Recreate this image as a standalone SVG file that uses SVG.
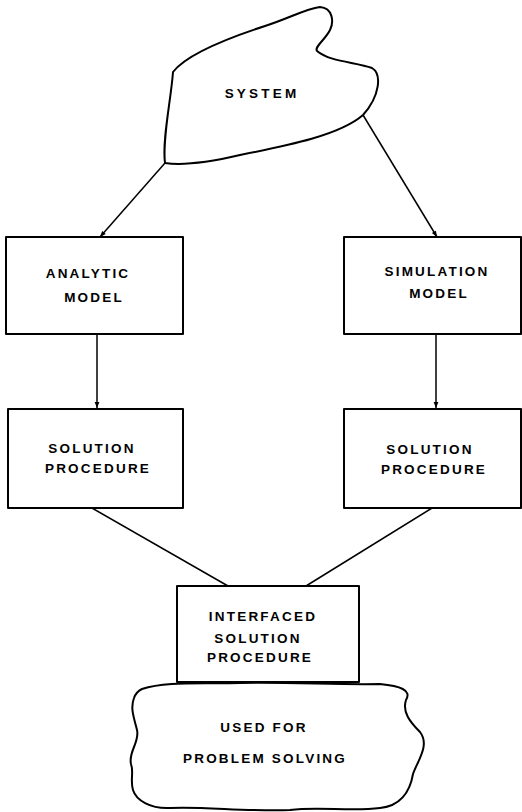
<svg xmlns="http://www.w3.org/2000/svg" width="522" height="812" viewBox="0 0 522 812">
<style>
.s{fill:#fff;stroke:#000;stroke-width:2;stroke-linejoin:round}
.c{fill:none;stroke:#000;stroke-width:1.5}
text{font-family:"Liberation Sans",Arial,sans-serif;font-size:13.5px;font-weight:bold;fill:#000;text-anchor:middle;letter-spacing:2.2px}
</style>
<defs>
<marker id="ah" viewBox="0 0 10 10" refX="10" refY="5" markerWidth="8" markerHeight="6" orient="auto" markerUnits="userSpaceOnUse">
<path d="M0,1 L10,5 L0,9 Z" fill="#000"/>
</marker>
</defs>
<rect width="522" height="812" fill="#fff"/>
<g id="connectors">
<line class="c" x1="165" y1="163" x2="100" y2="237" marker-end="url(#ah)"/>
<line class="c" x1="363" y1="115" x2="437" y2="237" marker-end="url(#ah)"/>
<line class="c" x1="97" y1="334" x2="97" y2="408" marker-end="url(#ah)"/>
<line class="c" x1="436" y1="334" x2="436" y2="408" marker-end="url(#ah)"/>
<line class="c" x1="92" y1="508" x2="228" y2="586"/>
<line class="c" x1="432" y1="508" x2="306" y2="586"/>
</g>
<g id="system">
<path class="s" d="M165,163 C162,140 171,100 173,72 C186,55 222,40 265,26 C290,18 305,9 320,7 C333,8 334,22 330,30 C325,40 314,47 317,51 C330,62 356,62 372,68 C382,74 380,96 363,115 C340,135 290,145 240,155 C210,162 185,166 165,163 Z"/>
<text x="262" y="98" style="letter-spacing:3.2px">SYSTEM</text>
</g>
<g id="analytic">
<rect class="s" x="6" y="237" width="177" height="97"/>
<text x="88" y="278">ANALYTIC</text>
<text x="94" y="302">MODEL</text>
</g>
<g id="simulation">
<rect class="s" x="344" y="237" width="177" height="97"/>
<text x="437" y="276">SIMULATION</text>
<text x="439" y="298">MODEL</text>
</g>
<g id="solution-left">
<rect class="s" x="8" y="409" width="175" height="99"/>
<text x="92" y="453">SOLUTION</text>
<text x="98" y="473">PROCEDURE</text>
</g>
<g id="solution-right">
<rect class="s" x="344" y="409" width="177" height="99"/>
<text x="430" y="454">SOLUTION</text>
<text x="434" y="474">PROCEDURE</text>
</g>
<g id="problem-solving">
<path class="s" d="M142,689 C165,681 200,684 240,683 C290,682 340,685 380,684 C400,686 412,690 406,700 C402,712 410,722 420,732 C430,745 418,760 413,774 C410,792 400,806 380,808 C350,812 320,806 290,810 C250,812 200,806 170,808 C150,809 136,800 133,790 C130,780 134,772 131,764 C128,752 140,742 137,730 C134,718 130,708 134,698 C136,692 140,690 142,689 Z"/>
<text x="264" y="732">USED FOR</text>
<text x="265" y="763">PROBLEM SOLVING</text>
</g>
<g id="interfaced">
<rect class="s" x="177" y="586" width="182" height="96"/>
<text x="263" y="621">INTERFACED</text>
<text x="258" y="643">SOLUTION</text>
<text x="260" y="662">PROCEDURE</text>
</g>
</svg>
